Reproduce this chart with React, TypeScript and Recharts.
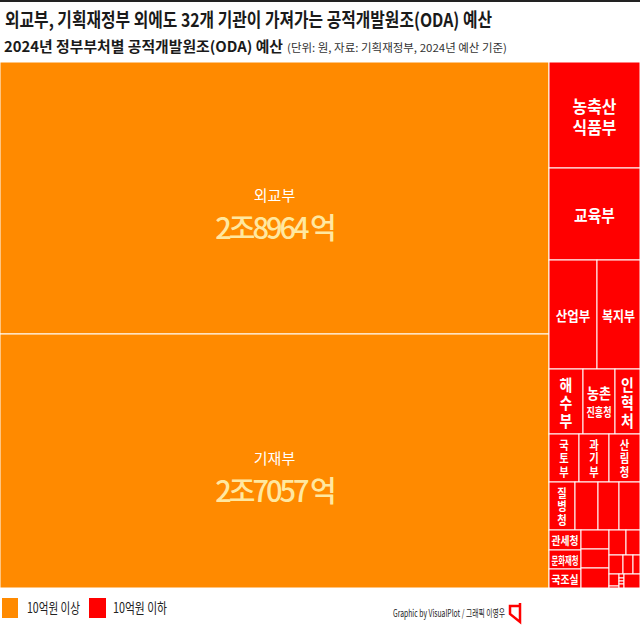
import React from "react";
import { Treemap } from "recharts";

const ORANGE = "#FF8A00";
const RED = "#FF0000";
const KFONT = '"Noto Sans CJK KR", "Noto Sans", sans-serif';

// 단위: 억원
const majorNames = ["외교부", "기재부"];
const majorValues = [28964, 27057];

const minorNames = [
  "농축산식품부", "교육부", "산업부", "복지부", "해수부", "농촌진흥청", "인혁처",
  "국토부", "과기부", "산림청", "질병청", "고용부", "환경부", "행안부",
  "관세청", "문화재청", "국조실", "문체부", "중기부", "여가부", "식약처",
  "경찰청", "특허청", "통계청", "법무부", "기상청", "해경청", "조달청",
  "통일부", "소방청", "새만금청", "원안위",
];
const minorValues = [
  1877, 1627, 1007, 924, 423, 398, 323,
  283, 276, 279, 242, 214, 195, 195,
  121, 119, 116, 105, 105, 100, 84,
  68, 50, 37, 28, 23, 5, 4,
  3, 3, 3, 2,
];

const labeledNames = [
  "농축산식품부", "교육부", "산업부", "복지부", "해수부", "농촌진흥청", "인혁처",
  "국토부", "과기부", "산림청", "질병청", "관세청", "문화재청", "국조실",
];
const splitLabels: Record<string, string[]> = {
  농축산식품부: ["농축산", "식품부"],
  농촌진흥청: ["농촌", "진흥청"],
};

const legendLabels = ["10억원 이상", "10억원 이하"];

const data = [
  ...majorNames.map((name, i) => ({ name, value: majorValues[i] })),
  ...minorNames.map((name, i) => ({ name, value: minorValues[i] })),
];

const formatWon = (v: number) => `${Math.floor(v / 10000)}조${v % 10000} 억`;

function FitText({ text, x, y, size, maxW, squeeze = 0.8, fill = "#fff", weight = 600 }: any) {
  const len = Math.min(text.length * size * squeeze, maxW);
  return (
    <text
      x={x}
      y={y}
      textAnchor="middle"
      dominantBaseline="central"
      fontSize={size}
      fontWeight={weight}
      fill={fill}
      fontFamily={KFONT}
      textLength={len}
      lengthAdjust="spacingAndGlyphs"
    >
      {text}
    </text>
  );
}

function VerticalText({ text, cx, cy, width, height }: any) {
  const chars = text.split("");
  const step = Math.min(18, (height - 8) / chars.length);
  const size = Math.min(step * 0.9, width - 6);
  const top = cy - (step * (chars.length - 1)) / 2;
  return (
    <text
      transform={`translate(${cx} 0) scale(0.86 1)`}
      textAnchor="middle"
      dominantBaseline="central"
      fontSize={size}
      fontWeight={600}
      fill="#fff"
      fontFamily={KFONT}
    >
      {chars.map((c: string, i: number) => (
        <tspan key={i} x={0} y={top + i * step}>{c}</tspan>
      ))}
    </text>
  );
}

function CellShape(props: any) {
  const { x, y, width, height, depth, name, value } = props;
  if (depth !== 1) return null;
  const major = majorNames.includes(name);
  const cx = x + width / 2;
  const cy = y + height / 2;
  let label: React.ReactNode = null;

  if (major) {
    label = (
      <>
        <text x={cx} y={cy - 4} textAnchor="middle" dominantBaseline="central" fontSize={15}
          fill="#fff" fontFamily={KFONT}>{name}</text>
        <text x={cx} y={cy + 28} textAnchor="middle" dominantBaseline="central" fontSize={29}
          fontWeight={500} fill="#FFE8A0" fontFamily={KFONT} letterSpacing={-3}>{formatWon(value)}</text>
      </>
    );
  } else if (labeledNames.includes(name)) {
    const lines = splitLabels[name];
    if (lines && width > 60) {
      label = lines.map((t, i) => (
        <FitText key={t} text={t} x={cx} y={cy - 10 + i * 21} size={17} squeeze={0.86} maxW={width - 10} />
      ));
    } else if (lines) {
      label = (
        <>
          <FitText text={lines[0]} x={cx} y={cy - 9} size={15} maxW={width - 8} />
          <FitText text={lines[1]} x={cx} y={cy + 10} size={12} maxW={width - 7} />
        </>
      );
    } else if (width > 60) {
      label = <FitText text={name} x={cx} y={cy} size={17} squeeze={0.8} maxW={width - 10} />;
    } else if (width >= 40) {
      label = <FitText text={name} x={cx} y={cy} size={14} squeeze={0.82} maxW={width - 10} />;
    } else if (height >= 40) {
      label = <VerticalText text={name} cx={cx} cy={cy} width={width} height={height} />;
    } else {
      label = <FitText text={name} x={cx} y={cy} size={11} squeeze={0.9} maxW={width - 5} />;
    }
  }

  return (
    <g>
      <rect x={x} y={y} width={width} height={height} fill={major ? ORANGE : RED}
        stroke="#fff" strokeWidth={1} />
      {label}
    </g>
  );
}

export default function App() {
  return (
    <div style={{ position: "relative", width: 640, height: 627, background: "#fff", overflow: "hidden" }}>
      <style>{"body{margin:0}"}</style>
      <svg width={640} height={627} style={{ position: "absolute", left: 0, top: 0 }}>
        <rect x={0} y={0} width={640} height={2} fill="#222" />
        <text x={5} y={27} fontSize={19} fontWeight={700} fill="#1a1a1a" fontFamily={KFONT}
          textLength={487} lengthAdjust="spacingAndGlyphs">
          외교부, 기획재정부 외에도 32개 기관이 가져가는 공적개발원조(ODA) 예산
        </text>
        <text x={4} y={52} fontSize={14.5} fontWeight={700} fill="#1a1a1a" fontFamily={KFONT}
          textLength={279} lengthAdjust="spacingAndGlyphs">
          2024년 정부부처별 공적개발원조(ODA) 예산
        </text>
        <text x={287} y={52} fontSize={11} fill="#333" fontFamily={KFONT}
          textLength={220} lengthAdjust="spacingAndGlyphs">
          (단위: 원, 자료: 기획재정부, 2024년 예산 기준)
        </text>

        <rect x={2} y={598} width={16} height={20} fill={ORANGE} />
        <text x={27} y={613} fontSize={14} fill="#222" fontFamily={KFONT}
          textLength={53} lengthAdjust="spacingAndGlyphs">{legendLabels[0]}</text>
        <rect x={89} y={598} width={17} height={20} fill={RED} />
        <text x={113} y={613} fontSize={14} fill="#222" fontFamily={KFONT}
          textLength={54} lengthAdjust="spacingAndGlyphs">{legendLabels[1]}</text>

        <text x={393} y={617} fontSize={10} fill="#222" fontFamily={KFONT}
          textLength={112} lengthAdjust="spacingAndGlyphs">Graphic by VisualPlot / 그래픽 이영우</text>
        <path d="M520 606 L510 606 L510 614 L520 622 L520 603" fill="none" stroke={RED} strokeWidth={2.5} />
      </svg>
      <div style={{ position: "absolute", left: 0, top: 62 }}>
        <Treemap
          width={640}
          height={526}
          data={data}
          dataKey="value"
          nameKey="name"
          isAnimationActive={false}
          content={<CellShape />}
        />
      </div>
    </div>
  );
}
